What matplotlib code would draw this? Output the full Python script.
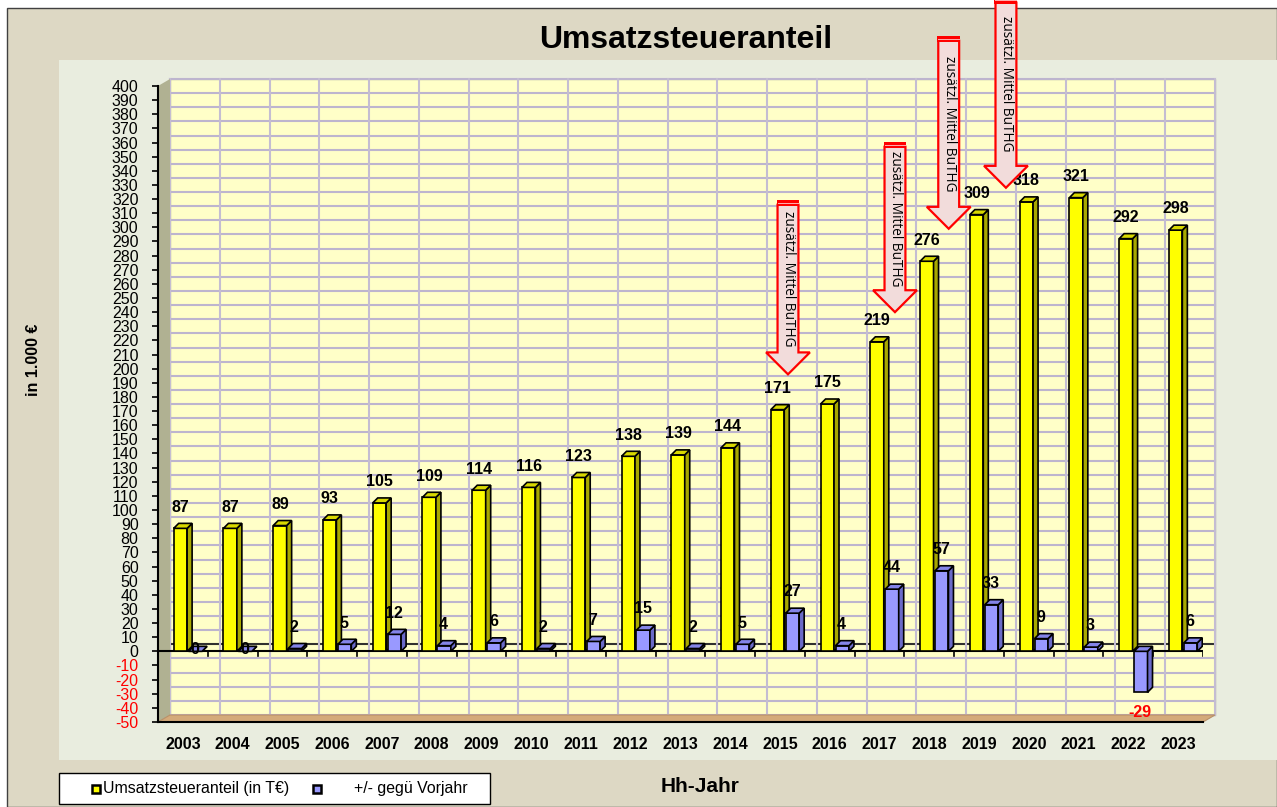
"""Umsatzsteueranteil - Excel-style 3D column chart, redrawn with matplotlib."""
import matplotlib

matplotlib.use("Agg")
import matplotlib.pyplot as plt
import numpy as np
from matplotlib.lines import Line2D
from matplotlib.patches import Polygon, Rectangle

years = [str(y) for y in range(2003, 2024)]
anteil = [87, 87, 89, 93, 105, 109, 114, 116, 123, 138, 139,
          144, 171, 175, 219, 276, 309, 318, 321, 292, 298]
diff_vj = [0, 0, 2, 5, 12, 4, 6, 2, 7, 15, 2,
           5, 27, 4, 44, 57, 33, 9, 3, -29, 6]

# "zusätzl. Mittel BuTHG" call-outs: x position (category units), arrow tip, arrow top
arrow_x = [12.16, 14.31, 15.39, 16.54]
arrow_tip = [196, 240, 299, 328]
arrow_top = [316, 357, 432, 459]
arrow_text = "zusätzl. Mittel BuTHG"

W, H = 1277, 807
plt.rcParams["font.family"] = ["Liberation Sans", "DejaVu Sans"]

fig = plt.figure(figsize=(W / 100, H / 100), dpi=100, facecolor="white")


def fx(px):
    return px / W


def fy(py):
    return 1 - py / H


# outer frame and inner panel
fig.add_artist(Rectangle((fx(7), 0), 1 - fx(7), fy(8), transform=fig.transFigure,
                         facecolor="#DDD8C4", edgecolor="#404040", lw=1, zorder=-10))
fig.add_artist(Rectangle((fx(59), fy(760)), 1 - fx(59), fy(60) - fy(760),
                         transform=fig.transFigure, facecolor="#E9EDDF",
                         edgecolor="none", zorder=-9))

ax = fig.add_axes([fx(158), fy(722), fx(1203) - fx(158), fy(86) - fy(722)])
ax.set_xlim(-0.5, 20.5)
ax.set_ylim(-50, 400)
ax.patch.set_visible(False)

ux = (fx(1203) - fx(158)) * W / 21      # px per category
uy = (fy(86) - fy(722)) * H / 450       # px per unit
DX, DY = 12 / ux, 7 / uy                # depth of the back wall
bdx, bdy = 5 / ux, 5 / uy               # depth of each column

# back wall, grid, left wall, floor
ax.add_patch(Rectangle((-0.5 + DX, -50 + DY), 21, 450, facecolor="#FFFFC8",
                       edgecolor="#B8B8A8", lw=1, zorder=0, clip_on=False))
for v in range(-50, 401, 10):
    ax.plot([-0.5 + DX, 20.5 + DX], [v + DY, v + DY], clip_on=False,
            color="#303030" if v == 0 else "#BDB5CE", lw=1.5, zorder=0.5)
for b in np.arange(-0.5, 20.6, 1):
    ax.plot([b + DX, b + DX], [-50 + DY, 400 + DY], color="#C4BDD2",
            lw=1.5, zorder=0.5, clip_on=False)
ax.add_patch(Polygon([(-0.5, -50), (-0.5, 400), (-0.5 + DX, 400 + DY), (-0.5 + DX, -50 + DY)],
                     facecolor="#B0B192", edgecolor="none", zorder=1, clip_on=False))
ax.add_patch(Polygon([(-0.5, -50), (20.5, -50), (20.5 + DX, -50 + DY), (-0.5 + DX, -50 + DY)],
                     facecolor="#D4AA7A", edgecolor="#B89068", lw=0.8, zorder=1, clip_on=False))

x = np.arange(len(years))


def column(xc, v, front, side, top, z):
    lo, hi = min(0, v), max(0, v)
    w = 0.27
    ax.bar(xc, v, width=w, color=front, edgecolor="black", lw=1.2, zorder=z)
    x0, x1 = xc - w / 2, xc + w / 2
    ax.add_patch(Polygon([(x1, lo), (x1 + bdx, lo + bdy), (x1 + bdx, hi + bdy), (x1, hi)],
                         facecolor=side, edgecolor="black", lw=1.2, zorder=z))
    ax.add_patch(Polygon([(x0, hi), (x0 + bdx, hi + bdy), (x1 + bdx, hi + bdy), (x1, hi)],
                         facecolor=top, edgecolor="black", lw=1.2, zorder=z))


for i in x:
    column(i - 0.05, anteil[i], "#FFFF00", "#A8A800", "#D8D800", 3 + i * 0.01)
    column(i + 0.25, diff_vj[i], "#9999FF", "#6A6AC8", "#8484E8", 3.005 + i * 0.01)

# value labels
for i in x:
    ax.text(i - 0.05, anteil[i] + 15, str(anteil[i]), ha="center", va="center",
            fontsize=11.5, fontweight="bold", zorder=6)
    d = diff_vj[i]
    ypos = d + 15 if d > 0 else (d - 14 if d < 0 else 1)
    ax.text(i + 0.24, ypos, str(d), ha="center", va="center", fontsize=11.5,
            fontweight="bold", color="#FF0000" if d < 0 else "black", zorder=6)

# zero line with category ticks
ax.plot([-0.5, 20.5], [0, 0], color="black", lw=1.5, zorder=2)
for b in np.arange(0.5, 20.6, 1):
    ax.plot([b, b], [0, -3.5], color="black", lw=1.2, zorder=2)

# axes
for s in ("top", "right"):
    ax.spines[s].set_visible(False)
ax.spines["left"].set_linewidth(1.5)
ax.spines["bottom"].set_linewidth(1.5)
ax.set_yticks(range(-50, 401, 10))
ax.set_yticklabels([str(v) for v in range(-50, 401, 10)], fontsize=11.5)
for lbl, v in zip(ax.get_yticklabels(), range(-50, 401, 10)):
    if v < 0:
        lbl.set_color("#FF0000")
ax.tick_params(axis="y", length=4, width=1.2, pad=10)
ax.set_xticks(x)
ax.set_xticklabels(years, fontsize=11.5, fontweight="bold")
ax.tick_params(axis="x", length=0, pad=11)

# arrows
hw, sw, hl = 0.44, 0.21, 15.5
for xa, tip, top in zip(arrow_x, arrow_tip, arrow_top):
    pts = [(xa - sw, top), (xa + sw, top), (xa + sw, tip + hl), (xa + hw, tip + hl),
           (xa, tip), (xa - hw, tip + hl), (xa - sw, tip + hl)]
    ax.add_patch(Polygon(pts, facecolor="#F2DCDB", edgecolor="#FF0000", lw=1.6,
                         zorder=7, clip_on=False, joinstyle="miter"))
    ax.add_patch(Rectangle((xa - sw - 0.02, top - 1), 2 * sw + 0.04, 4.5, facecolor="#FF0000",
                           edgecolor="none", zorder=7.5, clip_on=False))
    ax.plot([xa - sw, xa + sw], [top + 1.5, top + 1.5], color="#FFB0B0", lw=0.7,
            zorder=7.6, clip_on=False)
    ax.text(xa + 0.01, (top + tip + hl) / 2, arrow_text, rotation=-90, ha="center",
            va="center", fontsize=9.8, family=["Open Sans", "DejaVu Sans"], zorder=8)

# titles
fig.text(fx(686), fy(40), "Umsatzsteueranteil", ha="center", va="center",
         fontsize=23, fontweight="bold")
fig.text(fx(33), fy(360), "in 1.000 €", rotation=90, ha="center", va="center",
         fontsize=11.5, fontweight="bold")
fig.text(fx(700), fy(786), "Hh-Jahr", ha="center", va="center", fontsize=15,
         fontweight="bold")

# legend
fig.add_artist(Rectangle((fx(59), fy(804)), fx(490) - fx(59), fy(773) - fy(804),
                         transform=fig.transFigure, facecolor="white",
                         edgecolor="black", lw=1))
fig.add_artist(Line2D([fx(96)], [fy(789)], marker="s", markersize=6, color="#FFFF00",
                      markeredgecolor="black", markeredgewidth=1.8,
                      transform=fig.transFigure))
fig.text(fx(103), fy(789), "Umsatzsteueranteil (in T€)", ha="left", va="center", fontsize=11.4)
fig.add_artist(Line2D([fx(317)], [fy(789)], marker="s", markersize=6, color="#9999FF",
                      markeredgecolor="black", markeredgewidth=1.8,
                      transform=fig.transFigure))
fig.text(fx(354), fy(789), "+/- gegü Vorjahr", ha="left", va="center", fontsize=11.4)

fig.savefig("out.png", dpi=100)
